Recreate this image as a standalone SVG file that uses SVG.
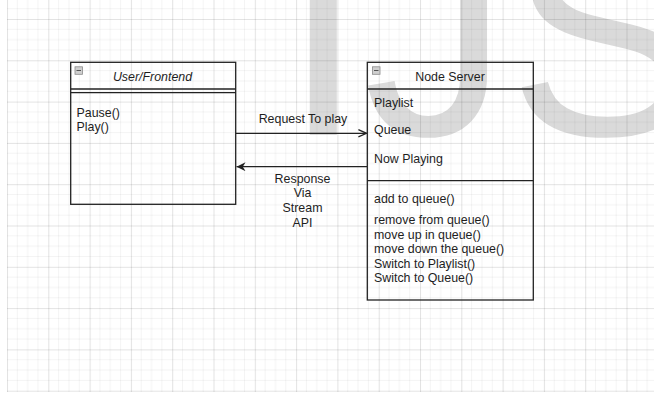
<svg xmlns="http://www.w3.org/2000/svg" width="654" height="394" viewBox="0 0 654 394">
  <defs>
    <pattern id="grid" patternUnits="userSpaceOnUse" x="7" y="19" width="41.3" height="41.3">
      <g stroke="#000" stroke-opacity="0.045" stroke-width="1" fill="none">
        <line x1="10.325" y1="0" x2="10.325" y2="41.3"/>
        <line x1="20.65" y1="0" x2="20.65" y2="41.3"/>
        <line x1="30.975" y1="0" x2="30.975" y2="41.3"/>
        <line x1="0" y1="10.325" x2="41.3" y2="10.325"/>
        <line x1="0" y1="20.65" x2="41.3" y2="20.65"/>
        <line x1="0" y1="30.975" x2="41.3" y2="30.975"/>
      </g>
      <g stroke="#000" stroke-opacity="0.11" stroke-width="1" fill="none">
        <line x1="0.5" y1="0" x2="0.5" y2="41.3"/>
        <line x1="0" y1="0.5" x2="41.3" y2="0.5"/>
      </g>
    </pattern>
    <marker id="openArrow" viewBox="0 0 10 10" refX="10" refY="5" markerWidth="9" markerHeight="9" markerUnits="userSpaceOnUse" orient="auto">
      <path d="M1,1 L10,5 L1,9" fill="none" stroke="#222" stroke-width="1.4"/>
    </marker>
    <marker id="blockArrow" viewBox="0 0 10 10" refX="10" refY="5" markerWidth="9" markerHeight="9" markerUnits="userSpaceOnUse" orient="auto">
      <path d="M0,0 L10,5 L0,10 L3,5 Z" fill="#222"/>
    </marker>
    <style>
      .box { fill: none; stroke: #222; stroke-width: 1.3; }
      .sep { stroke: #222; stroke-width: 1.3; }
      .txt { font-family: "Liberation Sans", Arial, sans-serif; font-size: 12.4px; fill: #1e1e1e; }
      .mid { text-anchor: middle; }
      .icon { fill: #cfcfcf; stroke: #8a8a8a; stroke-width: 0.8; }
      .iconbar { stroke: #555; stroke-width: 1; }
      .conn { stroke: #222; stroke-width: 1.3; fill: none; }
    </style>
  </defs>

  <rect x="0" y="0" width="654" height="394" fill="#fff"/>

  <!-- watermark -->
  <text x="283" y="135" font-family="Liberation Sans, Arial, sans-serif" font-size="290" fill="#dadada">IJS</text>

  <!-- grid -->
  <rect x="7" y="0" width="647" height="392" fill="url(#grid)"/>

  <!-- User/Frontend -->
  <g id="user-frontend">
    <rect class="box" x="70.7" y="62.3" width="165" height="142"/>
    <line class="sep" x1="70.7" y1="89" x2="235.7" y2="89"/>
    <line class="sep" x1="70.7" y1="92.7" x2="235.7" y2="92.7"/>
    <rect class="icon" x="75" y="66.8" width="7.5" height="7.5"/>
    <line class="iconbar" x1="76.5" y1="70.5" x2="81" y2="70.5"/>
    <text class="txt mid" x="152.5" y="80.5" font-style="italic">User/Frontend</text>
    <text class="txt" x="76.5" y="116.5">Pause()</text>
    <text class="txt" x="76.5" y="131">Play()</text>
  </g>

  <!-- Node Server -->
  <g id="node-server">
    <rect class="box" x="367.3" y="62.3" width="166" height="237.7"/>
    <line class="sep" x1="367.3" y1="89" x2="533.3" y2="89"/>
    <line class="sep" x1="367.3" y1="180.7" x2="533.3" y2="180.7"/>
    <rect class="icon" x="372.5" y="66.8" width="7.5" height="7.5"/>
    <line class="iconbar" x1="374" y1="70.5" x2="378.5" y2="70.5"/>
    <text class="txt mid" x="450" y="80.5">Node Server</text>
    <text class="txt" x="374" y="107.3">Playlist</text>
    <text class="txt" x="374" y="134.3">Queue</text>
    <text class="txt" x="374" y="163.3">Now Playing</text>
    <text class="txt" x="374" y="202.7">add to queue()</text>
    <text class="txt" x="374" y="224.3">remove from queue()</text>
    <text class="txt" x="374" y="238.8">move up in queue()</text>
    <text class="txt" x="374" y="253.3">move down the queue()</text>
    <text class="txt" x="374" y="267.8">Switch to Playlist()</text>
    <text class="txt" x="374" y="282.3">Switch to Queue()</text>
  </g>

  <!-- connectors -->
  <g id="connectors">
    <line class="conn" x1="236" y1="133.3" x2="366.5" y2="133.3" marker-end="url(#openArrow)"/>
    <text class="txt mid" x="303" y="122.5" font-size="12">Request To play</text>
    <line class="conn" x1="367" y1="166.7" x2="236.5" y2="166.7" marker-end="url(#blockArrow)"/>
    <text class="txt mid" x="302.5" y="182.5" font-size="12">Response</text>
    <text class="txt mid" x="302.5" y="197" font-size="12">Via</text>
    <text class="txt mid" x="302.5" y="211.8" font-size="12">Stream</text>
    <text class="txt mid" x="302.5" y="226.5" font-size="12">API</text>
  </g>
</svg>
